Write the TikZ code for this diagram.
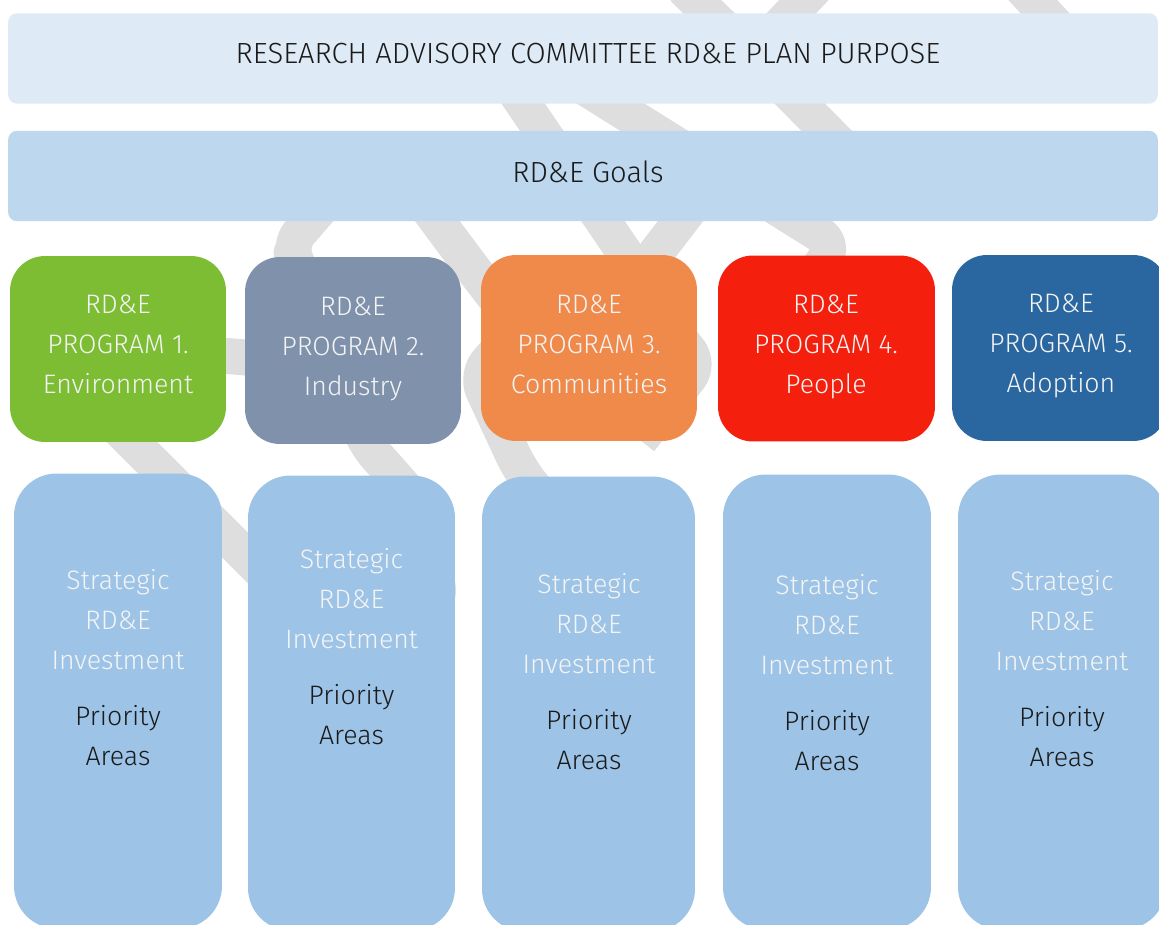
\documentclass[tikz,border=0pt]{standalone}
\usepackage{fontspec}
\setmainfont{Fira Sans Light}
\definecolor{wmgrey}{HTML}{DEDEDE}
\definecolor{topfill}{HTML}{DEEAF6}
\definecolor{goalfill}{HTML}{BDD7EE}
\definecolor{areafill}{HTML}{9DC3E6}
\definecolor{pgreen}{HTML}{7CBD33}
\definecolor{pslate}{HTML}{7F91AB}
\definecolor{porange}{HTML}{F08A4B}
\definecolor{pred}{HTML}{F41F0D}
\definecolor{pblue}{HTML}{2A67A0}
\definecolor{darktext}{HTML}{1A1A1A}
\definecolor{lighttext}{HTML}{F4F4F4}
\tikzset{
  wm/.style={draw=wmgrey, line width=0.72cm, rounded corners=0.35cm, line join=round},
  bar/.style={rectangle, rounded corners=0.18cm, inner sep=0pt, minimum width=23cm, minimum height=1.81cm},
  prog/.style={rectangle, rounded corners=0.7cm, inner sep=0pt, minimum width=4.32cm, minimum height=3.72cm},
  area/.style={rectangle, rounded corners=0.85cm, fill=areafill, inner sep=0pt, minimum width=4.16cm, minimum height=9.1cm},
  headtxt/.style={anchor=base, inner sep=0pt, text=darktext, font=\fontsize{16.6}{19}\selectfont},
  wtxt/.style={anchor=base, inner sep=0pt, text=lighttext, font=\fontsize{15.2}{18}\selectfont},
  dtxt/.style={anchor=base, inner sep=0pt, text=darktext, font=\fontsize{15.2}{18}\selectfont}
}
\begin{document}
\begin{tikzpicture}[x=0.02cm, y=-0.02cm]
\useasboundingbox (0,0) rectangle (1159,924);
\clip (0,0) rectangle (1159,924);
\fill[white] (0,0) rectangle (1159,924);
% watermark strokes
\draw[wm] (480,40) -- (643,280);
\draw[wm] (509,40) -- (835,244) -- (790,310);
\draw[wm] (683,-12) -- (752,55) -- (818,-15);
\draw[wm] (752,55) -- (880,185);
\draw[wm] (1019,-15) -- (1100,73);
\draw[wm] (345,180) -- (288,246) -- (300,268) -- (365,443) -- (420,505);
\draw[wm] (400,170) -- (438,222) -- (470,265) -- (520,330);
\draw[wm] (560,280) -- (476,375) -- (520,470) -- (560,520);
\draw[wm] (60,370) -- (330,640);
\draw[wm] (150,350) -- (330,364);
\draw[wm] (380,520) -- (445,590) -- (380,660);
\draw[wm] (640,290) -- (700,364) -- (640,440);
\draw[wm] (712,180) -- (620,300);
% top bars
\node[bar, fill=topfill] (purpose) at (583,58.5) {};
\node[bar, fill=goalfill] (goals) at (583,176) {};
\node[headtxt] (purposet) at (588,63) {RESEARCH ADVISORY COMMITTEE RD\&E PLAN PURPOSE};
\node[headtxt] (goalst) at (588,182) {RD\&E Goals};
% programs
\node[prog, fill=pgreen] (p1) at (118,349) {};
\node[prog, fill=pslate, minimum height=3.74cm] (p2) at (353,350.5) {};
\node[prog, fill=porange] (p3) at (589,348) {};
\node[prog, fill=pred, minimum width=4.34cm] (p4) at (826.5,348.5) {};
\node[prog, fill=pblue] (p5) at (1060,348) {};
\node[wtxt] (p1a) at (118,313) {RD\&E};
\node[wtxt] (p1b) at (118,353) {PROGRAM 1.};
\node[wtxt] (p1c) at (118,393) {Environment};
\node[wtxt] (p2a) at (353,315) {RD\&E};
\node[wtxt] (p2b) at (353,355) {PROGRAM 2.};
\node[wtxt] (p2c) at (353,395) {Industry};
\node[wtxt] (p3a) at (589,313) {RD\&E};
\node[wtxt] (p3b) at (589,353) {PROGRAM 3.};
\node[wtxt] (p3c) at (589,393) {Communities};
\node[wtxt] (p4a) at (826,313) {RD\&E};
\node[wtxt] (p4b) at (826,353) {PROGRAM 4.};
\node[wtxt] (p4c) at (826,393) {People};
\node[wtxt] (p5a) at (1061,312) {RD\&E};
\node[wtxt] (p5b) at (1061,352) {PROGRAM 5.};
\node[wtxt] (p5c) at (1061,392) {Adoption};
% priority area columns
\node[area] (a1) at (118,701) {};
\node[area, minimum width=4.14cm] (a2) at (351.5,703) {};
\node[area, minimum width=4.26cm] (a3) at (588.5,704) {};
\node[area] (a4) at (827,702) {};
\node[area] (a5) at (1062,702) {};
\foreach \n/\x/\y in {1/118/589, 2/351.5/568, 3/589/593, 4/827/594, 5/1062/590}{
  \node[wtxt] (s\n a) at (\x,\y) {Strategic};
  \node[wtxt] (s\n b) at (\x,\y+40) {RD\&E};
  \node[wtxt] (s\n c) at (\x,\y+80) {Investment};
  \node[dtxt] (s\n d) at (\x,\y+136) {Priority};
  \node[dtxt] (s\n e) at (\x,\y+176) {Areas};
}
\end{tikzpicture}
\end{document}
